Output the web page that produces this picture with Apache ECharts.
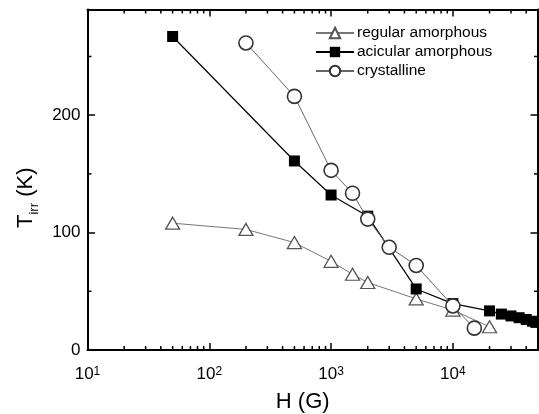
<!DOCTYPE html>
<html>
<head>
<meta charset="utf-8">
<script src="https://cdn.jsdelivr.net/npm/echarts@6/dist/echarts.min.js"></script>
<style>
html,body{margin:0;padding:0;background:#fff;}
#chart{width:539px;height:414px;}
</style>
</head>
<body>
<div id="chart"></div>
<script>
// ---- data ----
const seriesNames = ['regular amorphous', 'acicular amorphous', 'crystalline'];
const regularH = [50, 200, 500, 1000, 1500, 2000, 5000, 10000, 20000];
const regularT = [108, 102.7, 91.5, 75.5, 64.5, 57.5, 43.5, 34, 19.8];
const acicularH = [50, 500, 1000, 2000, 5000, 10000, 20000, 25000, 30000, 35000, 40000, 45000, 48000];
const acicularT = [267, 161, 132, 114, 52, 39.5, 33.3, 30.6, 29, 27.5, 26, 24.5, 23.5];
const crystallineH = [200, 500, 1000, 1500, 2000, 3000, 5000, 10000, 15000];
const crystallineT = [261.5, 216, 153, 133.5, 111.5, 87.5, 72, 37.5, 18.6];
const xMin = 10, xMax = 50000;
const yMin = 0, yMax = 290;
const yMajorTicks = 100;
const yMinorTicks = [50, 150, 250];
const xMinorTicks = [];
[10, 100, 1000, 10000].forEach(function (d) {
  for (let k = 2; k <= 9; k++) { if (k * d < xMax) xMinorTicks.push(k * d); }
});

function pairs(xs, ys) { return xs.map(function (x, i) { return [x, ys[i]]; }); }

const chart = echarts.init(document.getElementById('chart'), null, {renderer: 'canvas'});
const FONT = 'Liberation Sans';
const axisLine = {show: true, onZero: false, lineStyle: {color: '#000', width: 2}};

function minorTickRender(params, api) {
  const v = api.value(0);
  const which = api.value(1);
  let lines = [];
  if (which === 0) {
    const b = api.coord([v, yMin]);
    const t = api.coord([v, yMax]);
    lines.push([b[0], b[1], b[0], b[1] - 4]);
    lines.push([t[0], t[1], t[0], t[1] + 4]);
  } else {
    const l = api.coord([xMin, v]);
    const r = api.coord([xMax, v]);
    lines.push([l[0], l[1], l[0] + 4, l[1]]);
    lines.push([r[0], r[1], r[0] - 4, r[1]]);
  }
  return {
    type: 'group',
    children: lines.map(function (p) {
      return {type: 'line', shape: {x1: p[0], y1: p[1], x2: p[2], y2: p[3]}, style: {stroke: '#000', lineWidth: 1.5}};
    })
  };
}

const option = {
  animation: false,
  backgroundColor: '#fff',
  textStyle: {fontFamily: FONT},
  grid: {left: 87.5, right: 1, top: 9.5, bottom: 64, containLabel: false, outerBoundsMode: 'none'},
  legend: {
    orient: 'vertical',
    left: 310,
    top: 20,
    itemWidth: 38,
    itemHeight: 13,
    itemGap: 3,
    data: seriesNames,
    textStyle: {fontFamily: FONT, fontSize: 15.5, color: '#000', padding: [0, 0, 0, -2]}
  },
  xAxis: [{
    type: 'log', logBase: 10, min: xMin, max: xMax, position: 'bottom',
    axisLine: axisLine,
    axisTick: {show: true, inside: true, length: 7, lineStyle: {color: '#000', width: 1.5}},
    splitLine: {show: false},
    axisLabel: {
      showMaxLabel: false, margin: 16, color: '#000',
      formatter: function (v) {
        const e = Math.round(Math.log(v) / Math.LN10);
        return '{b|10}{s|' + e + '}';
      },
      rich: {
        b: {fontSize: 17, fontFamily: FONT, color: '#000', verticalAlign: 'bottom', lineHeight: 17},
        s: {fontSize: 12, fontFamily: FONT, color: '#000', verticalAlign: 'top', lineHeight: 12, padding: [0, 0, 8, 0]}
      }
    },
    name: 'H (G)', nameLocation: 'middle', nameGap: 41,
    nameTextStyle: {fontSize: 22, fontFamily: FONT, color: '#000', padding: [0, 20, 0, 0]}
  }, {
    type: 'log', logBase: 10, min: xMin, max: xMax, position: 'top',
    axisLine: axisLine,
    axisTick: {show: true, inside: true, length: 7, lineStyle: {color: '#000', width: 1.5}},
    axisLabel: {show: false}, splitLine: {show: false}
  }],
  yAxis: [{
    type: 'value', min: yMin, max: yMax, interval: yMajorTicks, position: 'left',
    axisLine: axisLine,
    axisTick: {show: true, inside: true, length: 7.5, lineStyle: {color: '#000', width: 1.5}},
    splitLine: {show: false},
    axisLabel: {showMaxLabel: false, margin: 7, fontSize: 17, fontFamily: FONT, color: '#000'},
    name: '{t|T}{s|irr}{t| (K)}', nameLocation: 'middle', nameGap: 42, nameRotate: 90,
    nameTextStyle: {
      padding: [0, 36, 0, 0],
      rich: {
        t: {fontSize: 22, fontFamily: FONT, color: '#000', verticalAlign: 'top', lineHeight: 26},
        s: {fontSize: 13, fontFamily: FONT, color: '#000', verticalAlign: 'bottom', lineHeight: 10, padding: [20, 0, 0, 0]}
      }
    }
  }, {
    type: 'value', min: yMin, max: yMax, interval: yMajorTicks, position: 'right',
    axisLine: axisLine,
    axisTick: {show: true, inside: true, length: 7.5, lineStyle: {color: '#000', width: 1.5}},
    axisLabel: {show: false}, splitLine: {show: false}
  }],
  series: [{
    name: seriesNames[0], type: 'line', data: pairs(regularH, regularT),
    symbol: 'triangle', symbolSize: [14, 12],
    lineStyle: {color: '#777', width: 1},
    itemStyle: {color: '#fff', borderColor: '#555', borderWidth: 1.3},
    z: 3
  }, {
    name: seriesNames[1], type: 'line', data: pairs(acicularH, acicularT),
    symbol: 'rect', symbolSize: 11,
    lineStyle: {color: '#000', width: 1.2},
    itemStyle: {color: '#000', borderColor: '#000', borderWidth: 0},
    z: 4
  }, {
    name: seriesNames[2], type: 'line', data: pairs(crystallineH, crystallineT),
    symbol: 'circle', symbolSize: 14,
    lineStyle: {color: '#666', width: 1},
    itemStyle: {color: '#fff', borderColor: '#333', borderWidth: 1.6},
    z: 5
  }, {
    type: 'custom', silent: true, clip: false, z: 10,
    data: xMinorTicks.map(function (v) { return [v, 0]; }),
    encode: {x: 0},
    renderItem: minorTickRender
  }, {
    type: 'custom', silent: true, clip: false, z: 10,
    data: yMinorTicks.map(function (v) { return [v, 1]; }),
    encode: {x: -1},
    renderItem: function (params, api) { return minorTickRender(params, api); }
  }]
};
chart.setOption(option);
</script>
</body>
</html>
